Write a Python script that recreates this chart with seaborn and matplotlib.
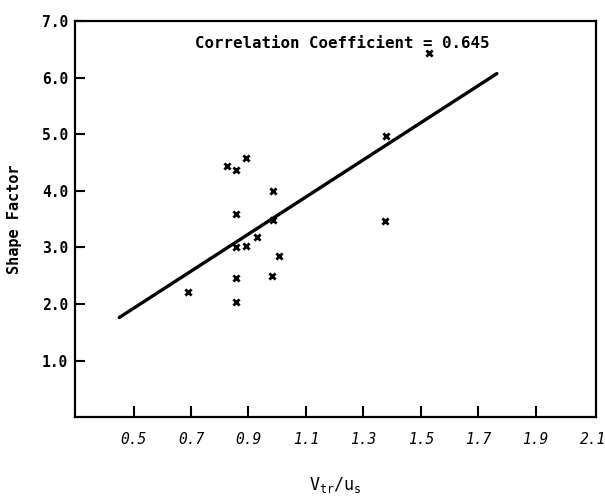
import matplotlib
matplotlib.use('Agg')
import matplotlib.pyplot as plt
import seaborn as sns

velocity_ratio = [0.688, 0.856, 0.856, 0.856, 0.856, 0.856, 0.824, 0.893, 0.893,
                  0.930, 0.986, 0.986, 1.007, 0.982, 1.380, 1.377, 1.527]
shape_factor = [2.22, 2.04, 2.46, 3.00, 3.59, 4.37, 4.43, 4.58, 3.02,
                3.18, 3.49, 3.99, 2.85, 2.50, 4.97, 3.46, 6.43]

# regression line end points
fit_x = [0.45, 1.765]
fit_y = [1.76, 6.07]

x_ticks = [0.5, 0.7, 0.9, 1.1, 1.3, 1.5, 1.7, 1.9, 2.1]
y_ticks = [1.0, 2.0, 3.0, 4.0, 5.0, 6.0, 7.0]
corr_coef = 0.645

sns.set_style('ticks', {'axes.edgecolor': 'black', 'text.color': 'black',
                        'axes.labelcolor': 'black', 'xtick.color': 'black',
                        'ytick.color': 'black'})
plt.rcParams['font.family'] = ['DejaVu Sans Mono', 'DejaVu Sans']
plt.rcParams['mathtext.default'] = 'regular'

fig = plt.figure(figsize=(6.05, 4.99), dpi=100)
ax = fig.add_axes([0.124, 0.164, 0.861, 0.794])

sns.lineplot(x=fit_x, y=fit_y, color='black', linewidth=2.4, ax=ax)
sns.scatterplot(x=velocity_ratio, y=shape_factor, marker='x', s=20,
                color='black', linewidth=2.0, ax=ax)

ax.set_xlim(0.296, 2.11)
ax.set_ylim(0, 7.0)
ax.set_xticks(x_ticks)
ax.set_xticklabels([f'{v:.1f}' for v in x_ticks], fontsize=10.5, style='italic')
ax.set_yticks(y_ticks)
ax.set_yticklabels([f'{v:.1f}' for v in y_ticks], fontsize=10.5, fontweight='bold')
ax.tick_params(axis='x', direction='in', length=8, width=1.5, pad=11)
ax.tick_params(axis='y', direction='in', length=7, width=1.5, pad=5)
ax.xaxis.get_major_ticks()[-1].tick1line.set_visible(False)

for side in ['top', 'right', 'bottom', 'left']:
    ax.spines[side].set_visible(True)
    ax.spines[side].set_linewidth(1.6)
    ax.spines[side].set_color('black')

ax.set_xlabel('$V_{tr}/u_s$', fontsize=12, labelpad=20, color='black')
ax.set_ylabel('Shape Factor', fontsize=11, fontweight='bold', labelpad=14, color='black')

ax.text(1.228, 6.6, f'Correlation Coefficient = {corr_coef}', ha='center',
        va='center', fontsize=11.3, fontweight='bold', color='black')

fig.savefig('out.png', dpi=100)
